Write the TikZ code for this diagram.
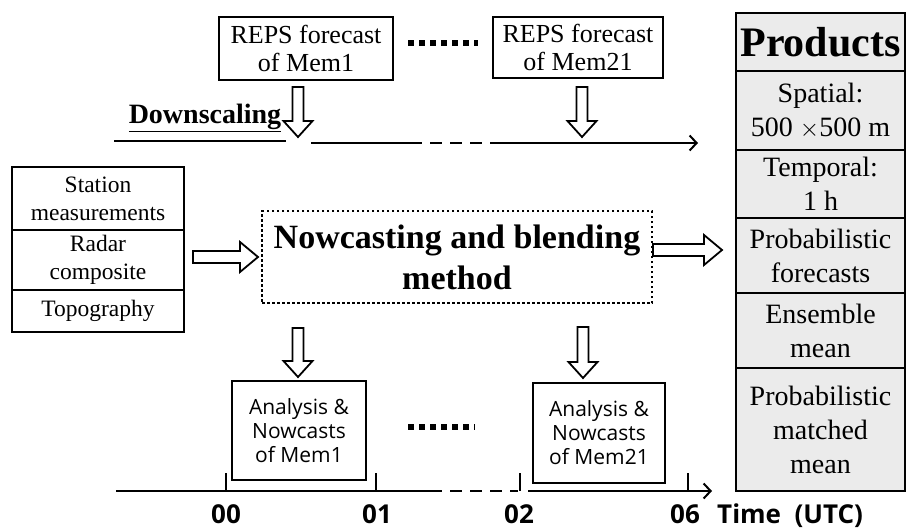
\documentclass[tikz,border=0pt]{standalone}
\usepackage{fontspec}
\setmainfont{Liberation Serif}
\setsansfont{Open Sans}
\usepackage{tikz}
\usetikzlibrary{positioning,calc,arrows.meta}

\newcommand{\blockdown}[2]{%
  \draw[block] let \p1=(#1), \p2=(#2) in
    (\x1-5.5pt,\y1) -- (\x1+5.5pt,\y1) -- (\x1+5.5pt,\y2+16pt) -- (\x1+14.5pt,\y2+16pt)
    -- (\x1,\y2) -- (\x1-14.5pt,\y2+16pt) -- (\x1-5.5pt,\y2+16pt) -- cycle;}
\newcommand{\blockright}[2]{%
  \draw[block] let \p1=(#1), \p2=(#2) in
    (\x1,\y1+6pt) -- (\x2-18pt,\y1+6pt) -- (\x2-18pt,\y1+15pt) -- (\x2,\y1)
    -- (\x2-18pt,\y1-15pt) -- (\x2-18pt,\y1-6pt) -- (\x1,\y1-6pt) -- cycle;}

\begin{document}
\begin{tikzpicture}[x=1pt,y=-1pt,
    box/.style={rectangle,draw,line width=2pt,inner sep=0pt,align=center},
    reps/.style={box,font=\fontsize{26}{28}\selectfont},
    inbox/.style={box,minimum width=172,font=\fontsize{23.5}{28}\selectfont},
    prod/.style={box,fill=black!8,minimum width=169,font=\fontsize{28}{34}\selectfont},
    ana/.style={box,font=\sffamily\fontsize{21}{24}\selectfont},
    block/.style={draw,line width=1.8pt,fill=white,line join=miter},
    dots/.style={line width=5.5pt,dash pattern=on 5.5pt off 5.5pt},
    tline/.style={line width=2pt},
    tip/.style={tline,-{Straight Barb[length=7pt,width=15pt]}},
    tick/.style={anchor=base,inner sep=0pt,font=\sffamily\bfseries\fontsize{26}{30}\selectfont}]
\useasboundingbox (0,0) rectangle (907,530);

% ensemble forecasts
\node[reps,minimum width=174,minimum height=63] (reps1) at (306,48.5) {REPS forecast\\of Mem1};
\node[reps,minimum width=170,minimum height=61] (reps21) at (578,47.5) {REPS forecast\\of Mem21};
\draw[dots] (408,43) -- (478,43);

\coordinate (d1a) at (298,87);  \coordinate (d1b) at (298,137);
\coordinate (d2a) at (582,87);  \coordinate (d2b) at (582,137);
\blockdown{d1a}{d1b}
\blockdown{d2a}{d2b}

\node[font=\bfseries\fontsize{28}{30}\selectfont,inner sep=0pt] (down) at (205,118) {\underline{Downscaling}};

% upper time axis
\draw[tline] (114,141) -- (286,141);
\draw[tline] (311,143) -- (410,143);
\draw[tline,dashed,dash pattern=on 12pt off 8pt] (410,143) -- (495,143);
\draw[tip] (495,143) -- (698,143);

% observations
\node[inbox,minimum height=63] (station) at (98,198.5) {Station\\measurements};
\node[inbox,minimum height=60] (radar) at (98,260) {Radar\\composite};
\node[inbox,minimum height=42] (topo) at (98,311) {Topography};

\node[box,dotted,line width=2.5pt,dash pattern=on 2.5pt off 2.5pt,minimum width=390,minimum height=92,
  font=\bfseries\fontsize{34}{41}\selectfont] (blend) at (457,257) {Nowcasting and blending\\method};

\coordinate (r1a) at (193,257);  \coordinate (r1b) at (258,257);
\coordinate (r2a) at (653,250);  \coordinate (r2b) at (722,250);
\blockright{r1a}{r1b}
\blockright{r2a}{r2b}

% products
\node[prod,minimum height=58,font=\bfseries\fontsize{42}{45}\selectfont] (products) at (820.5,42) {Products};
\node[prod,minimum height=79] (spatial) at (820.5,110.5) {Spatial:\\500 $\times$500 m};
\node[prod,minimum height=68] (temporal) at (820.5,184) {Temporal:\\1 h};
\node[prod,minimum height=75] (probfc) at (820.5,255.5) {Probabilistic\\forecasts};
\node[prod,minimum height=75] (ensmean) at (820.5,330.5) {Ensemble\\mean};
\node[prod,minimum height=123] (pmm) at (820.5,429.5) {Probabilistic\\matched\\mean};

% analysis and nowcasts
\coordinate (d3a) at (298,328);  \coordinate (d3b) at (298,377);
\coordinate (d4a) at (583,327);  \coordinate (d4b) at (583,378);
\blockdown{d3a}{d3b}
\blockdown{d4a}{d4b}

\node[ana,minimum width=134,minimum height=99] (ana1) at (299,430.5) {Analysis \&\\Nowcasts\\of Mem1};
\node[ana,minimum width=132,minimum height=100] (ana21) at (599,433) {Analysis \&\\Nowcasts\\of Mem21};
\draw[dots] (408,427) -- (475,427);

% lower time axis
\draw[tline] (116,491) -- (430,491);
\draw[tline,dashed,dash pattern=on 12pt off 8pt] (430,491) -- (518,491);
\draw[tip] (528,491) -- (712,491);
\foreach \tx in {226,376,520,688}
  \draw[line width=1.5pt] (\tx,473) -- (\tx,491);

\node[tick] (t00) at (226,523) {00};
\node[tick] (t01) at (377,523) {01};
\node[tick] (t02) at (519,523) {02};
\node[tick] (t06) at (685,523) {06};
\node[tick,anchor=base west] (utc) at (717,523) {Time\ \ (UTC)};

\end{tikzpicture}
\end{document}
